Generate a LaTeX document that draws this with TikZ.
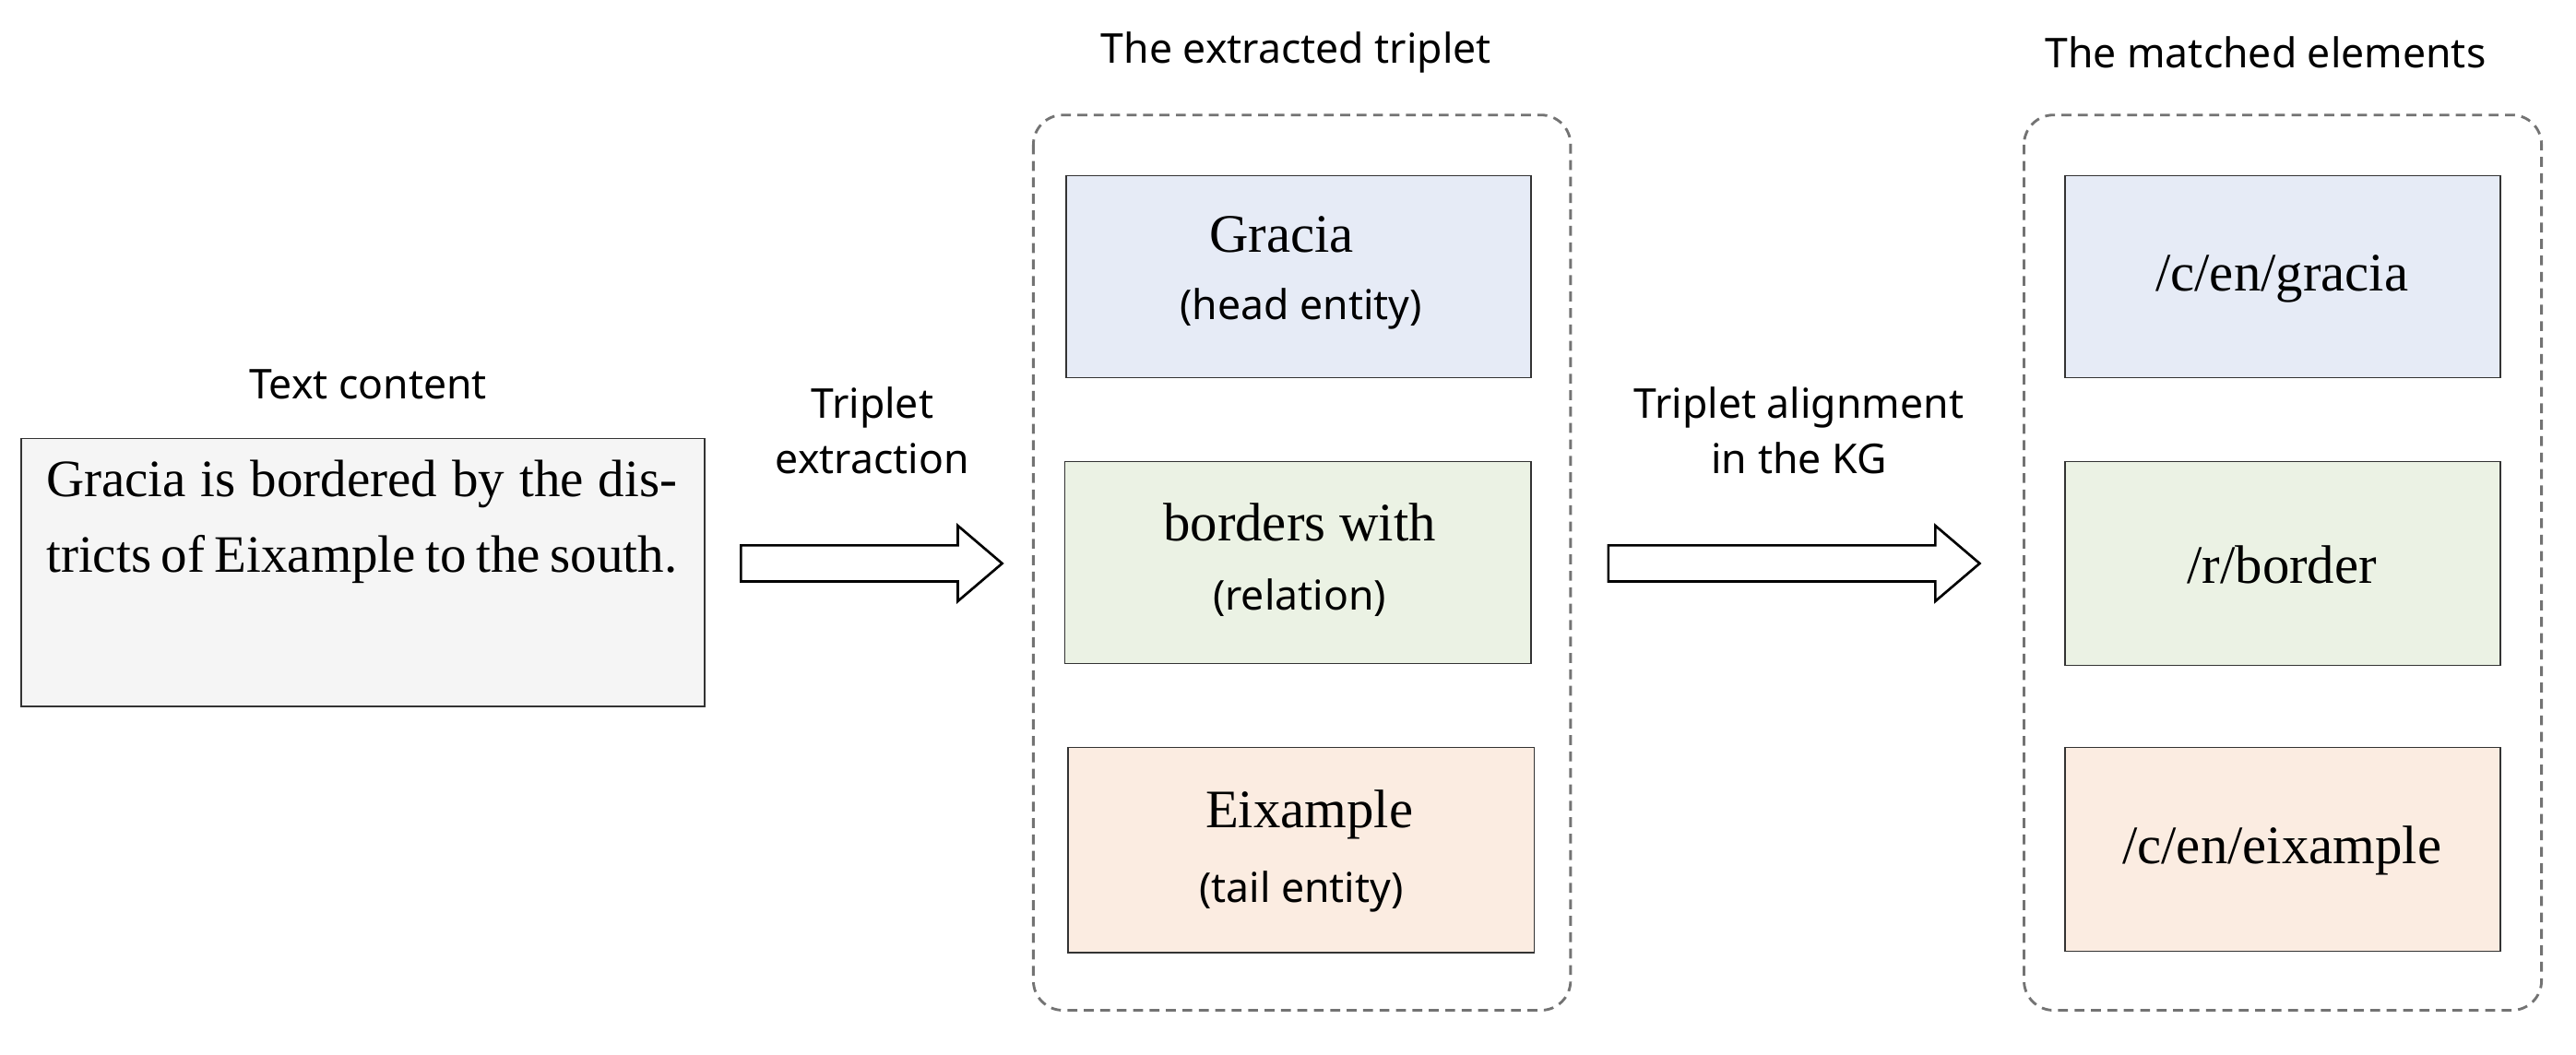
\documentclass[tikz,border=0pt]{standalone}
\usepackage{fontspec}
\setmainfont{Liberation Serif}
\newfontfamily\sansf{Noto Sans}
\begin{document}
\begin{tikzpicture}[x=1pt,y=-1pt,
  lab/.style={font=\sansf\fontsize{25}{34}\selectfont,align=center,inner sep=0},
  ser/.style={font=\fontsize{33}{40}\selectfont,inner sep=0},
  box/.style={draw=black!80,line width=0.8pt},
  dbox/.style={draw=black!55,dashed,line width=1.6pt,rounded corners=18pt,dash pattern=on 6pt off 4pt},
  harrow/.style={draw=black,line width=1.5pt,fill=white}]
\useasboundingbox (0,0) rectangle (1568,642);
% text box
\node[lab] (tc) at (224,234) {Text content};
\draw[box,fill=black!4] (13,267) rectangle (429,430);
\node[font=\fontsize{32}{46}\selectfont,text width=384pt,align=justify,inner sep=0,anchor=north west] (txt) at (28,280) {Gracia is bordered by the districts of Eixample to the south.};
% arrow 1
\node[lab] (te) at (531,262) {Triplet\\extraction};
\draw[harrow] (451,332) -- (583,332) -- (583,320) -- (610,343) -- (583,366) -- (583,354) -- (451,354) -- cycle;
% box group 1
\node[lab] (t1) at (789,32) {The extracted triplet};
\draw[dbox] (629,70) rectangle (956,615);
\draw[box,fill={rgb,255:red,230;green,235;blue,246}] (649,107) rectangle (932,230);
\node[ser] (h1) at (780,143) {Gracia};
\node[lab] (h2) at (792,188) {(head entity)};
\draw[box,fill={rgb,255:red,235;green,242;blue,228}] (648,281) rectangle (932,404);
\node[ser] (r1) at (791,318) {borders with};
\node[lab] (r2) at (791,364) {(relation)};
\draw[box,fill={rgb,255:red,251;green,236;blue,225}] (650,455) rectangle (934,580);
\node[ser] (e1) at (797,496) {Eixample};
\node[lab] (e2) at (792,543) {(tail entity)};
% arrow 2
\node[lab] (ta) at (1095,262) {Triplet alignment\\in the KG};
\draw[harrow] (979,332) -- (1178,332) -- (1178,320) -- (1205,343) -- (1178,366) -- (1178,354) -- (979,354) -- cycle;
% box group 2
\node[lab] (t2) at (1379,32) {The matched elements};
\draw[dbox] (1232,70) rectangle (1547,615);
\draw[box,fill={rgb,255:red,230;green,235;blue,246}] (1257,107) rectangle (1522,230);
\node[ser] (m1) at (1389,170) {/c/en/gracia};
\draw[box,fill={rgb,255:red,235;green,242;blue,228}] (1257,281) rectangle (1522,405);
\node[ser] (m2) at (1389,344) {/r/border};
\draw[box,fill={rgb,255:red,251;green,236;blue,225}] (1257,455) rectangle (1522,579);
\node[ser] (m3) at (1389,518) {/c/en/eixample};
\end{tikzpicture}
\end{document}
